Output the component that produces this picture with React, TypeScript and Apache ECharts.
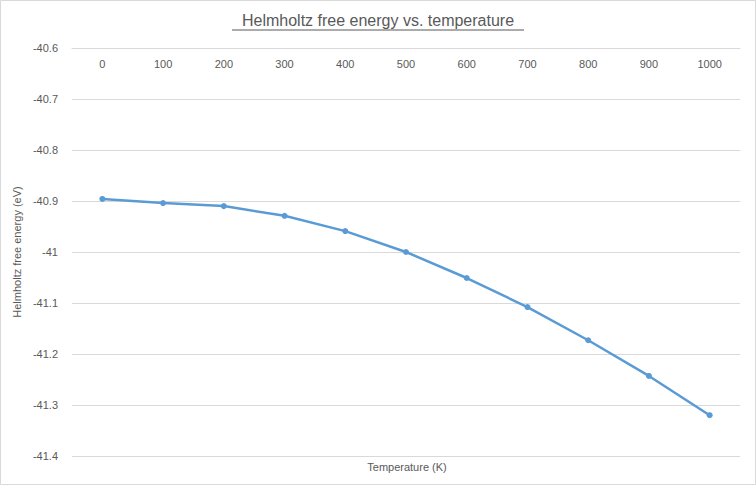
import { useEffect, useRef } from "react";
import * as echarts from "echarts";

const temperatures = ["0", "100", "200", "300", "400", "500", "600", "700", "800", "900", "1000"];
const freeEnergy = [-40.896, -40.904, -40.91, -40.929, -40.959, -41.0, -41.051, -41.108, -41.173, -41.243, -41.32];

const FONT = "'Liberation Sans', Arial, sans-serif";

export default function App() {
  const ref = useRef<HTMLDivElement | null>(null);

  useEffect(() => {
    document.body.style.margin = "0";
    if (!ref.current) return;
    const chart = echarts.init(ref.current, undefined, { renderer: "svg" });
    chart.setOption({
      animation: false,
      backgroundColor: "#fff",
      textStyle: { fontFamily: FONT },
      grid: { left: 72, right: 16, top: 48, bottom: 29 },
      xAxis: {
        type: "category",
        data: temperatures,
        position: "top",
        boundaryGap: true,
        axisLine: { show: true, lineStyle: { color: "#d9d9d9" } },
        axisTick: { show: false },
        axisLabel: { color: "#595959", fontSize: 11, inside: true, margin: 10 },
      },
      yAxis: {
        type: "value",
        min: -41.4,
        max: -40.6,
        interval: 0.1,
        name: "Helmholtz free energy (eV)",
        nameLocation: "middle",
        nameGap: 38,
        nameTextStyle: { color: "#595959", fontSize: 11 },
        axisLine: { show: false },
        axisTick: { show: false },
        splitLine: { lineStyle: { color: "#d9d9d9" } },
        axisLabel: {
          color: "#595959",
          fontSize: 11,
          margin: 14,
          formatter: (v: number) => String(+v.toFixed(1)),
        },
      },
      series: [
        {
          type: "line",
          data: freeEnergy,
          symbol: "circle",
          symbolSize: 6,
          lineStyle: { color: "#5b9bd5", width: 2.5 },
          itemStyle: { color: "#5b9bd5" },
        },
      ],
      graphic: [
        {
          type: "rect",
          shape: { x: 0.5, y: 0.5, width: 755, height: 484 },
          style: { fill: "none", stroke: "#d9d9d9", lineWidth: 1 },
        },
        {
          type: "text",
          x: 378,
          y: 20,
          style: {
            text: "Helmholtz free energy vs. temperature",
            fontFamily: FONT,
            fontSize: 16,
            fill: "#595959",
            align: "center",
            verticalAlign: "middle",
          },
        },
        {
          type: "line",
          shape: { x1: 232, y1: 30, x2: 524, y2: 30 },
          style: { stroke: "#595959", lineWidth: 1 },
        },
        {
          type: "text",
          x: 407,
          y: 467,
          style: {
            text: "Temperature (K)",
            fontFamily: FONT,
            fontSize: 11,
            fill: "#595959",
            align: "center",
            verticalAlign: "middle",
          },
        },
      ],
    });
    return () => chart.dispose();
  }, []);

  return <div ref={ref} style={{ position: "fixed", left: 0, top: 0, width: 756, height: 485 }} />;
}
